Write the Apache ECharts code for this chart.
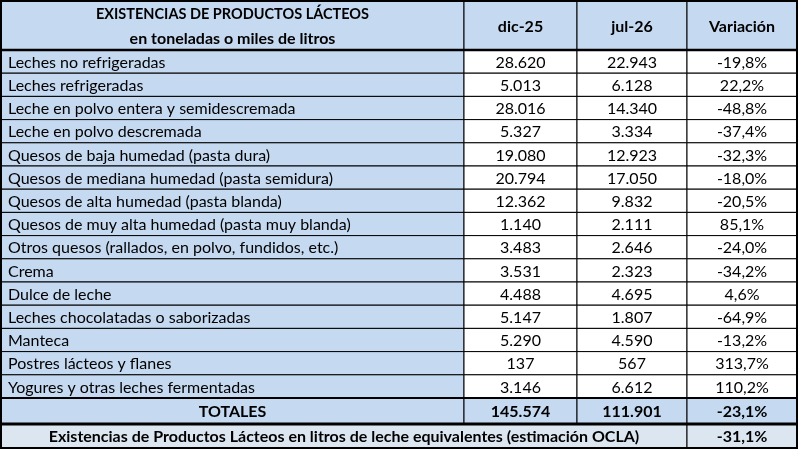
<!DOCTYPE html>
<html>
<head>
<meta charset="utf-8">
<script src="https://cdn.jsdelivr.net/npm/echarts@6/dist/echarts.min.js"></script>
<style>
html, body { margin: 0; padding: 0; background: #fff; }
#main { width: 800px; height: 450px; }
</style>
</head>
<body>
<div id="main"></div>
<script>
// datos de la tabla
var titleLines = ['EXISTENCIAS DE PRODUCTOS LÁCTEOS', 'en toneladas o miles de litros'];
var colHeaders = ['dic-25', 'jul-26', 'Variación'];
var products = [
    'Leches no refrigeradas',
    'Leches refrigeradas',
    'Leche en polvo entera y semidescremada',
    'Leche en polvo descremada',
    'Quesos de baja humedad (pasta dura)',
    'Quesos de mediana humedad (pasta semidura)',
    'Quesos de alta humedad (pasta blanda)',
    'Quesos de muy alta humedad (pasta muy blanda)',
    'Otros quesos (rallados, en polvo, fundidos, etc.)',
    'Crema',
    'Dulce de leche',
    'Leches chocolatadas o saborizadas',
    'Manteca',
    'Postres lácteos y flanes',
    'Yogures y otras leches fermentadas'
];
var dic25 = [28620, 5013, 28016, 5327, 19080, 20794, 12362, 1140, 3483, 3531, 4488, 5147, 5290, 137, 3146];
var jul26 = [22943, 6128, 14340, 3334, 12923, 17050, 9832, 2111, 2646, 2323, 4695, 1807, 4590, 567, 6612];
var variacion = [-19.8, 22.2, -48.8, -37.4, -32.3, -18.0, -20.5, 85.1, -24.0, -34.2, 4.6, -64.9, -13.2, 313.7, 110.2];
var totalLabel = 'TOTALES';
var totalValues = [145574, 111901];
var totalVariacion = -23.1;
var equivLabel = 'Existencias de Productos Lácteos en litros de leche equivalentes (estimación OCLA)';
var equivVariacion = -31.1;

// bordes de columnas y filas (disposición)
var colEdges = [0, 463, 576, 686, 796];
var rowEdges = [0, 49];
for (var i = 1; i <= products.length; i++) rowEdges.push(49 + 23.2 * i);
rowEdges.push(423, 447);

function fmtNum(n) {
    return String(n).replace(/\B(?=(\d{3})+(?!\d))/g, '.');
}
function fmtPct(v) {
    return v.toFixed(1).replace('.', ',') + '%';
}

var FONT = 'Lato, "Open Sans", sans-serif';
var styles = {
    title: { bg: '#c5d9f1', bold: true, size: 15, align: 'center' },
    head:  { bg: '#c5d9f1', bold: true, size: 16, align: 'center' },
    label: { bg: '#c5d9f1', bold: false, size: 16, align: 'left' },
    num:   { bg: '#ffffff', bold: false, size: 16, align: 'center' },
    total: { bg: '#c5d9f1', bold: true, size: 16, align: 'center' },
    equiv: { bg: '#dce6f1', bold: true, size: 16, align: 'center' }
};

// celdas: columna inicial, columna final, fila
var cells = [];
cells.push({ c0: 0, c1: 1, r: 0, text: '{t1|' + titleLines[0] + '}\n{t2|' + titleLines[1] + '}', kind: 'title' });
colHeaders.forEach(function (h, j) {
    cells.push({ c0: j + 1, c1: j + 2, r: 0, text: h, kind: 'head' });
});
products.forEach(function (p, k) {
    cells.push({ c0: 0, c1: 1, r: k + 1, text: p, kind: 'label' });
    cells.push({ c0: 1, c1: 2, r: k + 1, text: fmtNum(dic25[k]), kind: 'num' });
    cells.push({ c0: 2, c1: 3, r: k + 1, text: fmtNum(jul26[k]), kind: 'num' });
    cells.push({ c0: 3, c1: 4, r: k + 1, text: fmtPct(variacion[k]), kind: 'num' });
});
var rTot = products.length + 1;
cells.push({ c0: 0, c1: 1, r: rTot, text: totalLabel, kind: 'total' });
cells.push({ c0: 1, c1: 2, r: rTot, text: fmtNum(totalValues[0]), kind: 'total' });
cells.push({ c0: 2, c1: 3, r: rTot, text: fmtNum(totalValues[1]), kind: 'total' });
cells.push({ c0: 3, c1: 4, r: rTot, text: fmtPct(totalVariacion), kind: 'total' });
cells.push({ c0: 0, c1: 3, r: rTot + 1, text: equivLabel, kind: 'equiv' });
cells.push({ c0: 3, c1: 4, r: rTot + 1, text: fmtPct(equivVariacion), kind: 'equiv' });

// lineas gruesas: borde de fila, grosor
var thickLines = [[1, 2.5], [rTot, 2], [rTot + 1, 3]];

function renderCell(params, api) {
    var cell = cells[params.dataIndex];
    var st = styles[cell.kind];
    var r = api.value(2);
    var p0 = api.coord([colEdges[api.value(0)], rowEdges[r]]);
    var p1 = api.coord([colEdges[api.value(1)], rowEdges[r + 1]]);
    var tx = st.align === 'left' ? p0[0] + 7 : (p0[0] + p1[0]) / 2;
    var font = (st.bold ? 'bold ' : '') + st.size + 'px ' + FONT;
    return {
        type: 'group',
        children: [{
            type: 'rect',
            shape: { x: p0[0], y: p0[1], width: p1[0] - p0[0], height: p1[1] - p0[1] },
            style: { fill: st.bg, stroke: '#000', lineWidth: 1 }
        }, {
            type: 'text',
            style: {
                x: tx,
                y: (p0[1] + p1[1]) / 2 + 1,
                text: cell.text,
                align: st.align,
                verticalAlign: 'middle',
                fill: '#000',
                font: font,
                rich: {
                    t1: { fontFamily: FONT, fontWeight: 'bold', fontSize: 14.5, lineHeight: 24, align: 'center' },
                    t2: { fontFamily: FONT, fontWeight: 'bold', fontSize: 16, lineHeight: 24, align: 'center' }
                }
            }
        }]
    };
}

function renderLine(params, api) {
    var idx = api.value(0);
    var a = api.coord([colEdges[0], rowEdges[idx]]);
    var b = api.coord([colEdges[colEdges.length - 1], rowEdges[idx]]);
    return {
        type: 'line',
        shape: { x1: a[0], y1: a[1], x2: b[0], y2: b[1] },
        style: { stroke: '#000', lineWidth: api.value(1) }
    };
}

function renderFrame(params, api) {
    var a = api.coord([colEdges[0], rowEdges[0]]);
    var b = api.coord([colEdges[colEdges.length - 1], rowEdges[rowEdges.length - 1]]);
    return {
        type: 'rect',
        shape: { x: a[0], y: a[1], width: b[0] - a[0], height: b[1] - a[1] },
        style: { fill: 'none', stroke: '#000', lineWidth: 2 }
    };
}

var myChart = echarts.init(document.getElementById('main'));
var option = {
    animation: false,
    grid: { left: 1, top: 1, right: 3, bottom: 2 },
    xAxis: { type: 'value', min: 0, max: colEdges[colEdges.length - 1], show: false },
    yAxis: { type: 'value', min: 0, max: rowEdges[rowEdges.length - 1], inverse: true, show: false },
    series: [{
        type: 'custom',
        renderItem: renderCell,
        clip: false,
        data: cells.map(function (c) { return [c.c0, c.c1, c.r]; })
    }, {
        type: 'custom',
        renderItem: renderLine,
        clip: false,
        z: 3,
        data: thickLines
    }, {
        type: 'custom',
        renderItem: renderFrame,
        clip: false,
        z: 4,
        data: [[0]]
    }]
};
myChart.setOption(option);
window.addEventListener('resize', function () {
    myChart.resize();
});
</script>
</body>
</html>
